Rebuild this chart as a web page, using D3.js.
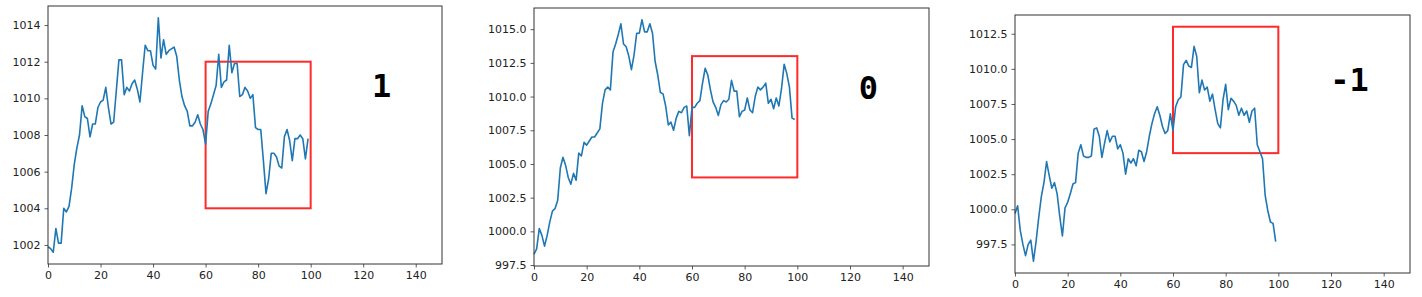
<!DOCTYPE html>
<html>
<head>
<meta charset="utf-8">
<script src="https://cdn.jsdelivr.net/npm/d3@7"></script>
<style>
  html, body { margin: 0; padding: 0; background: #fff; }
  svg { display: block; }
  .tick text { font-family: "DejaVu Sans", sans-serif; font-size: 11px; fill: #222; }
</style>
</head>
<body>
<svg id="chart" width="1422" height="297"></svg>
<script>
// ---------- data ----------
const labels = ["1", "0", "-1"];

const series1 = [
  1001.9, 1001.8, 1001.6, 1002.9, 1002.1, 1002.1, 1004.0, 1003.8, 1004.1, 1005.1,
  1006.4, 1007.3, 1008.0, 1009.6, 1009.0, 1008.9, 1007.9, 1008.6, 1008.6, 1009.5,
  1009.8, 1009.9, 1010.6, 1009.5, 1008.6, 1008.7, 1010.4, 1012.1, 1012.1, 1010.2,
  1010.6, 1010.4, 1010.8, 1011.0, 1010.5, 1009.8, 1011.4, 1012.9, 1012.6, 1012.6,
  1011.8, 1011.6, 1014.4, 1012.2, 1013.2, 1012.4, 1012.6, 1012.7, 1012.8, 1012.3,
  1011.0, 1010.1, 1009.6, 1009.3, 1008.5, 1008.5, 1008.7, 1009.1, 1008.6, 1008.3,
  1007.5, 1009.3, 1009.7, 1010.2, 1010.7, 1012.4, 1010.6, 1010.9, 1011.0, 1012.9,
  1011.4, 1011.9, 1011.9, 1010.1, 1010.2, 1010.6, 1010.4, 1010.0, 1010.2, 1008.4,
  1008.3, 1008.3, 1006.6, 1004.8, 1005.6, 1007.0, 1007.0, 1006.8, 1006.3, 1006.2,
  1007.9, 1008.3, 1007.7, 1006.6, 1007.8, 1007.8, 1008.0, 1007.8, 1006.7, 1007.8
];

const series2 = [
  998.3, 998.7, 1000.2, 999.7, 998.9, 999.7, 1000.7, 1001.5, 1001.7, 1002.3,
  1004.7, 1005.5, 1004.9, 1004.0, 1003.5, 1004.3, 1003.8, 1005.8, 1005.6, 1006.6,
  1006.4, 1006.7, 1007.0, 1007.0, 1007.3, 1007.6, 1009.5, 1010.5, 1010.7, 1010.5,
  1013.3, 1013.9, 1014.6, 1015.4, 1013.9, 1013.7, 1013.0, 1012.0, 1013.1, 1014.7,
  1014.7, 1015.7, 1014.8, 1014.8, 1015.4, 1014.7, 1012.6, 1011.6, 1010.3, 1010.2,
  1009.3, 1007.9, 1008.1, 1007.5, 1008.4, 1008.9, 1008.8, 1009.2, 1009.3, 1007.1,
  1009.2, 1009.2, 1009.5, 1009.7, 1011.0, 1012.1, 1011.6, 1010.5, 1009.6, 1009.2,
  1008.6, 1009.4, 1009.7, 1009.6, 1009.8, 1011.2, 1010.4, 1010.4, 1008.5, 1008.9,
  1009.0, 1009.9, 1009.0, 1008.8, 1010.0, 1010.7, 1010.5, 1010.7, 1011.0, 1009.5,
  1009.8, 1009.1, 1009.9, 1009.3, 1010.6, 1012.4, 1011.7, 1010.7, 1008.4, 1008.3
];

const series3 = [
  999.7, 1000.25, 998.5, 997.5, 996.7, 997.5, 997.8, 996.3, 997.7, 999.4,
  1000.9, 1001.9, 1003.4, 1002.4, 1001.5, 1001.9, 1001.1, 999.5, 998.1, 1000.1,
  1000.5, 1001.1, 1001.8, 1001.9, 1004.0, 1004.6, 1003.8, 1003.7, 1003.7, 1003.8,
  1005.7, 1005.8, 1005.2, 1003.7, 1004.7, 1005.6, 1004.8, 1005.2, 1005.2, 1004.3,
  1004.6, 1004.0, 1002.5, 1003.6, 1003.3, 1003.6, 1003.1, 1004.2, 1004.1, 1003.4,
  1004.1, 1005.2, 1006.1, 1006.8, 1007.3, 1006.7, 1005.9, 1005.4, 1005.6, 1006.8,
  1005.6, 1007.3, 1007.8, 1008.0, 1010.3, 1010.6, 1010.2, 1010.1, 1011.6, 1010.9,
  1008.3, 1009.2, 1008.5, 1008.7, 1007.7, 1008.2, 1007.1, 1006.1, 1005.8, 1007.8,
  1008.9, 1007.1, 1007.9, 1007.7, 1007.4, 1006.7, 1007.2, 1006.7, 1007.0, 1006.2,
  1007.0, 1007.2, 1004.6, 1004.1, 1003.6, 1001.0, 999.9, 999.1, 999.0, 997.7
];

// red box extents
const boxX = [60, 100];
const boxY1 = [1004, 1012];
const boxY2 = [1004, 1013];
const boxY3 = [1004, 1013];

const xTicks = [0, 20, 40, 60, 80, 100, 120, 140];
const yTicks1 = [1002, 1004, 1006, 1008, 1010, 1012, 1014];
const yTicks2 = [997.5, 1000.0, 1002.5, 1005.0, 1007.5, 1010.0, 1012.5, 1015.0];
const yTicks3 = [997.5, 1000.0, 1002.5, 1005.0, 1007.5, 1010.0, 1012.5];
const xDomain = [0, 150];
const labelX = 127;

// ---------- layout ----------
const panels = [
  { data: series1, box: boxY1, yTicks: yTicks1, fmt: d3.format("d"),   label: labels[0],
    left: 48,   top: 6,  width: 394, height: 258, labelDrop: 91 },
  { data: series2, box: boxY2, yTicks: yTicks2, fmt: d3.format(".1f"), label: labels[1],
    left: 534,  top: 8,  width: 395, height: 258, labelDrop: 91 },
  { data: series3, box: boxY3, yTicks: yTicks3, fmt: d3.format(".1f"), label: labels[2],
    left: 1015, top: 15, width: 395, height: 258, labelDrop: 76 }
];

const svg = d3.select("#chart");

panels.forEach(p => {
  const lo = Math.min(d3.min(p.data), p.box[0]);
  const hi = Math.max(d3.max(p.data), p.box[1]);
  const m = (hi - lo) * 0.05;

  const x = d3.scaleLinear().domain(xDomain).range([0, p.width]);
  const y = d3.scaleLinear().domain([lo - m, hi + m]).range([p.height, 0]);

  const g = svg.append("g").attr("transform", `translate(${p.left},${p.top})`);

  g.append("rect")
    .attr("x", x(boxX[0])).attr("y", y(p.box[1]))
    .attr("width", x(boxX[1]) - x(boxX[0]))
    .attr("height", y(p.box[0]) - y(p.box[1]))
    .attr("fill", "none")
    .attr("stroke", "#ff2b2b")
    .attr("stroke-width", 2);

  const line = d3.line().x((d, i) => x(i)).y(d => y(d));
  g.append("path")
    .datum(p.data)
    .attr("d", line)
    .attr("fill", "none")
    .attr("stroke", "#1f77b4")
    .attr("stroke-width", 1.6)
    .attr("stroke-linejoin", "round");

  g.append("text")
    .attr("x", x(labelX))
    .attr("y", p.labelDrop)
    .attr("text-anchor", "middle")
    .attr("font-family", "'DejaVu Sans Mono', monospace")
    .attr("font-weight", "bold")
    .attr("font-size", 32)
    .attr("fill", "#000")
    .text(p.label);

  const xAxis = d3.axisBottom(x).tickValues(xTicks).tickSize(3.5).tickPadding(4).tickFormat(d3.format("d"));
  const yAxis = d3.axisLeft(y).tickValues(p.yTicks).tickSize(3.5).tickPadding(4).tickFormat(p.fmt);

  const gx = g.append("g").attr("transform", `translate(0,${p.height})`).call(xAxis);
  const gy = g.append("g").call(yAxis);
  [gx, gy].forEach(a => {
    a.select(".domain").remove();
    a.selectAll(".tick line").attr("stroke", "#333").attr("stroke-width", 0.8);
  });

  g.append("rect")
    .attr("x", 0).attr("y", 0)
    .attr("width", p.width).attr("height", p.height)
    .attr("fill", "none")
    .attr("stroke", "#333")
    .attr("stroke-width", 1);
});
</script>
</body>
</html>
